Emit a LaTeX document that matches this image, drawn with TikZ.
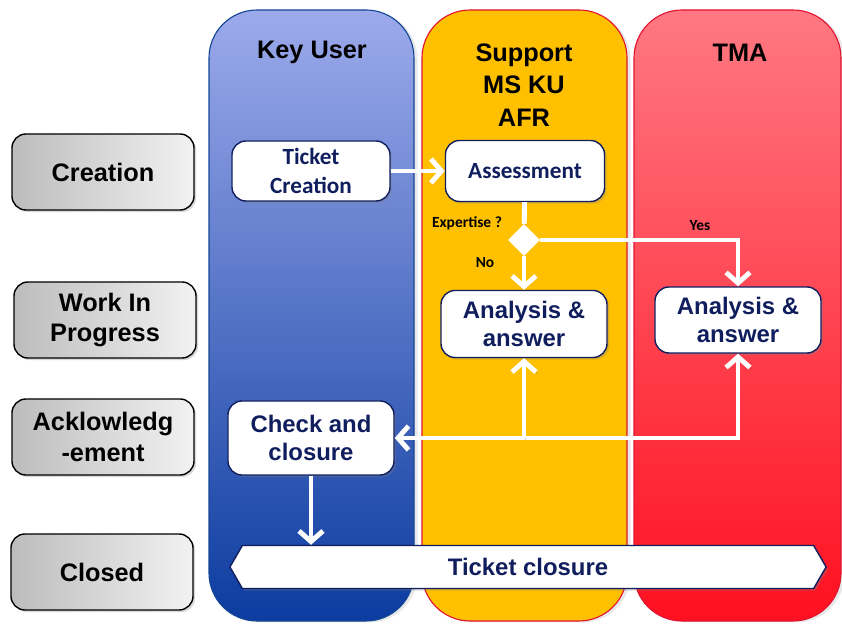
\documentclass[tikz,border=0pt]{standalone}
\usepackage{fontspec}
\setmainfont{Liberation Sans}
\newfontfamily\calibri{Carlito}
\usepackage{xcolor}
\usepackage{tikz}
\usetikzlibrary{arrows.meta,shapes.geometric,shapes.symbols,shadows}

\definecolor{navy}{RGB}{16,30,94}
\definecolor{kutop}{RGB}{156,170,235}
\definecolor{kubot}{RGB}{12,60,160}
\definecolor{kuline}{RGB}{20,70,150}
\definecolor{supfill}{RGB}{255,192,0}
\definecolor{supline}{RGB}{225,20,50}
\definecolor{tmatop}{RGB}{255,120,130}
\definecolor{tmabot}{RGB}{255,16,32}
\definecolor{phlight}{RGB}{242,242,242}
\definecolor{phdark}{RGB}{188,188,188}

\tikzset{
  lane/.style={rounded corners=1.2cm,line width=0.8pt,
    drop shadow={shadow xshift=2.5pt,shadow yshift=-1pt,opacity=0.18}},
  lanehead/.style={font=\bfseries\fontsize{18}{23}\selectfont,align=center},
  phasebox/.style={draw=black,line width=1pt,rounded corners=0.35cm,left color=phdark,right color=phlight,
    minimum width=4.55cm,minimum height=1.9cm,align=center,font=\bfseries\fontsize{18}{22}\selectfont,
    drop shadow={shadow xshift=1.5pt,shadow yshift=-1.5pt,opacity=0.3}},
  taskbox/.style={draw=navy,line width=1pt,fill=white,rounded corners=0.35cm,align=center,text=navy,
    minimum width=4.15cm,minimum height=1.65cm,font=\bfseries\fontsize{17}{20.5}\selectfont,
    drop shadow={shadow xshift=1.5pt,shadow yshift=-1.5pt,opacity=0.3}},
  ctaskbox/.style={taskbox,font=\calibri\bfseries\fontsize{16.5}{20.5}\selectfont},
  flow/.style={->,draw=white,line width=3.5pt,
    preaction={draw=black,opacity=0.2,transform canvas={xshift=1pt,yshift=-1.2pt}}},
  choice/.style={font=\calibri\bfseries\fontsize{11}{13}\selectfont}
}

\begin{document}
\begin{tikzpicture}[x=0.025cm,y=-0.025cm,>={Straight Barb[length=7.5pt,width=17pt]}]
\useasboundingbox (0,0) rectangle (842,628);

% swim lanes
\draw[lane,draw=kuline,top color=kutop,bottom color=kubot] (209,10) rectangle (414,621);
\draw[lane,draw=supline,fill=supfill] (422,10) rectangle (627,621);
\draw[lane,draw=supline,top color=tmatop,bottom color=tmabot] (634,10) rectangle (841,621);
\node[lanehead] (KU) at (312,52) {Key User};
\node[lanehead] (SUP) at (524,85) {Support\\MS KU\\AFR};
\node[lanehead] (TMA) at (740,53) {TMA};

% ticket states
\node[phasebox] (P1) at (103,172) {Creation};
\node[phasebox] (P2) at (105,320) {Work In\\Progress};
\node[phasebox] (P3) at (103,437) {Acklowledg\\-ement};
\node[phasebox] (P4) at (102,572) {Closed};

% tasks
\node[ctaskbox,minimum width=3.95cm,minimum height=1.5cm] (TC) at (311,171) {Ticket\\Creation};
\node[ctaskbox,minimum width=3.975cm,minimum height=1.525cm] (AS) at (525,171) {Assessment};
\node[diamond,fill=white,minimum size=0.8cm,inner sep=0pt] (D) at (524,240) {};
\node[taskbox,minimum height=1.675cm] (A1) at (524,324) {Analysis \&\\answer};
\node[taskbox] (A2) at (738,320) {Analysis \&\\answer};
\node[taskbox,minimum height=1.85cm] (CC) at (311,438) {Check and\\closure};
\node[signal,signal to=west and east,signal pointer angle=120,draw=navy,line width=1pt,fill=white,
  minimum width=14.9cm,minimum height=1.075cm,text=navy,font=\bfseries\fontsize{17}{20}\selectfont,
  drop shadow={shadow xshift=1.5pt,shadow yshift=-1.5pt,opacity=0.3}] (TK) at (528,567) {Ticket closure};

\node[choice] (EX) at (467,223) {Expertise ?};
\node[choice] (Y) at (700,226) {Yes};
\node[choice] (N) at (485,263) {No};

% connectors
\draw[flow] (TC) -- (AS);
\draw[flow,-] (AS) -- (D);
\draw[flow] (D) -- (A1);
\draw[flow] (D) -| (A2);
\draw[flow,<->] (A2) |- (CC);
\draw[flow] (A1 |- CC.east) -- (A1);
\draw[flow] (CC) -- (CC |- TK.north);

\end{tikzpicture}
\end{document}
